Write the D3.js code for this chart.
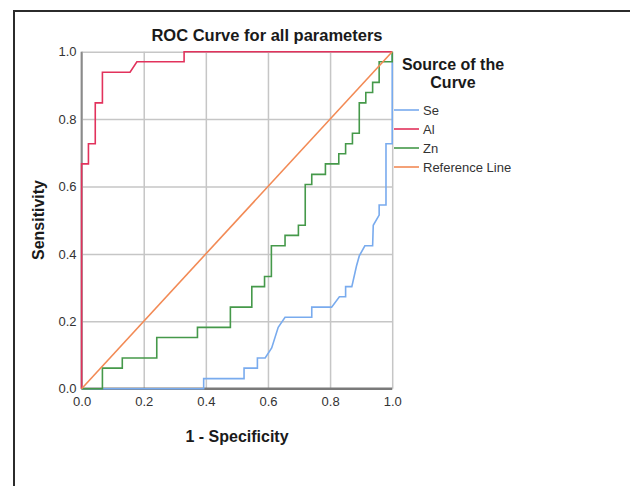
<!DOCTYPE html>
<html>
<head>
<meta charset="utf-8">
<script src="https://cdn.jsdelivr.net/npm/d3@7"></script>
<style>
  html, body { margin: 0; background: #fff; overflow: hidden; }
  svg { display: block; }
</style>
</head>
<body>
<div class="roc"></div>
<script>
// ROC curve vertices (1 - specificity, sensitivity)
const seFpr = [0, 0.393, 0.393, 0.523, 0.523, 0.566, 0.566, 0.591, 0.612, 0.633, 0.655, 0.741, 0.741, 0.805, 0.83, 0.85, 0.85, 0.87, 0.885, 0.894, 0.912, 0.937, 0.939, 0.958, 0.958, 0.98, 0.98, 1, 1];
const seTpr = [0, 0, 0.030, 0.030, 0.061, 0.061, 0.091, 0.091, 0.121, 0.182, 0.212, 0.212, 0.242, 0.242, 0.273, 0.273, 0.303, 0.303, 0.364, 0.394, 0.424, 0.424, 0.485, 0.515, 0.545, 0.545, 0.727, 0.727, 1];

const alFpr = [0, 0, 0.022, 0.022, 0.044, 0.044, 0.067, 0.067, 0.156, 0.178, 0.330, 0.330, 1];
const alTpr = [0, 0.667, 0.667, 0.727, 0.727, 0.848, 0.848, 0.939, 0.939, 0.970, 0.970, 1, 1];

const znFpr = [0, 0.067, 0.067, 0.131, 0.131, 0.242, 0.242, 0.373, 0.373, 0.479, 0.479, 0.548, 0.548, 0.589, 0.589, 0.611, 0.611, 0.655, 0.655, 0.698, 0.698, 0.72, 0.72, 0.741, 0.741, 0.785, 0.785, 0.828, 0.828, 0.85, 0.85, 0.872, 0.872, 0.894, 0.894, 0.915, 0.915, 0.937, 0.937, 0.958, 0.958, 1, 1];
const znTpr = [0, 0, 0.061, 0.061, 0.091, 0.091, 0.152, 0.152, 0.182, 0.182, 0.242, 0.242, 0.303, 0.303, 0.333, 0.333, 0.424, 0.424, 0.455, 0.455, 0.485, 0.485, 0.606, 0.606, 0.636, 0.636, 0.667, 0.667, 0.697, 0.697, 0.727, 0.727, 0.758, 0.758, 0.848, 0.848, 0.879, 0.879, 0.909, 0.909, 0.970, 0.970, 1];

const refFpr = [0, 1];
const refTpr = [0, 1];

const seriesNames = ["Se", "Al", "Zn", "Reference Line"];
const seriesColors = ["#79abee", "#e2325c", "#45994a", "#f28a55"];
const tickValues = [0, 0.2, 0.4, 0.6, 0.8, 1.0];

const fontFamily = "Liberation Sans, Arial, sans-serif";
const svgWidth = 630;
const svgHeight = 486;
const margin = { top: 51.7, left: 81.6 };
const innerWidth = 310.6;
const innerHeight = 337;

const svg = d3.select(".roc").append("svg")
  .attr("width", svgWidth)
  .attr("height", svgHeight)
  .attr("font-family", fontFamily);

// outer frame (runs off the right and bottom edges)
svg.append("path")
  .attr("d", `M14,${svgHeight + 5} V11 H${svgWidth + 5}`)
  .attr("fill", "none")
  .attr("stroke", "#2b2b2b")
  .attr("stroke-width", 2);

const xScale = d3.scaleLinear().domain([0, 1]).range([0, innerWidth]);
const yScale = d3.scaleLinear().domain([0, 1]).range([innerHeight, 0]);

const g = svg.append("g")
  .attr("transform", `translate(${margin.left}, ${margin.top})`);

// grid lines + tick labels
const yAxisG = g.append("g")
  .call(d3.axisLeft(yScale).tickValues(tickValues).tickFormat(d3.format(".1f")).tickSize(-innerWidth).tickPadding(5))
  .attr("font-family", fontFamily)
  .attr("font-size", 13);
yAxisG.select(".domain").remove();
yAxisG.selectAll(".tick line").attr("stroke", "#c6c6c6").attr("stroke-width", 1.5);
yAxisG.selectAll(".tick text").attr("fill", "#333");

const xAxisG = g.append("g")
  .attr("transform", `translate(0, ${innerHeight})`)
  .call(d3.axisBottom(xScale).tickValues(tickValues).tickFormat(d3.format(".1f")).tickSize(-innerHeight).tickPadding(8))
  .attr("font-family", fontFamily)
  .attr("font-size", 13);
xAxisG.select(".domain").remove();
xAxisG.selectAll(".tick line").attr("stroke", "#c6c6c6").attr("stroke-width", 1.5);
xAxisG.selectAll(".tick text").attr("fill", "#333");

// axis lines
g.append("line")
  .attr("x1", 0).attr("x2", 0).attr("y1", 0).attr("y2", innerHeight)
  .attr("stroke", "#8a8a8a").attr("stroke-width", 2);
g.append("line")
  .attr("x1", 0).attr("x2", innerWidth).attr("y1", innerHeight).attr("y2", innerHeight)
  .attr("stroke", "#7a7a7a").attr("stroke-width", 2.5);

const line = d3.line()
  .x((d) => xScale(d[0]))
  .y((d) => yScale(d[1]));

const curves = [
  d3.zip(seFpr, seTpr),
  d3.zip(alFpr, alTpr),
  d3.zip(znFpr, znTpr),
  d3.zip(refFpr, refTpr),
];

g.selectAll(".curve")
  .data(curves)
  .enter()
  .append("path")
  .attr("class", "curve")
  .attr("d", (d) => line(d))
  .attr("fill", "none")
  .attr("stroke", (d, i) => seriesColors[i])
  .attr("stroke-width", 1.6);

// titles
svg.append("text")
  .text("ROC Curve for all parameters")
  .attr("x", 267).attr("y", 41)
  .attr("text-anchor", "middle")
  .attr("font-size", 16.5).attr("font-weight", "bold").attr("fill", "#1a1a1a");

svg.append("text")
  .text("1 - Specificity")
  .attr("x", 237).attr("y", 442)
  .attr("text-anchor", "middle")
  .attr("font-size", 16).attr("font-weight", "bold").attr("fill", "#1a1a1a");

svg.append("text")
  .text("Sensitivity")
  .attr("transform", "translate(44, 220) rotate(-90)")
  .attr("text-anchor", "middle")
  .attr("font-size", 16).attr("font-weight", "bold").attr("fill", "#1a1a1a");

// legend
const legend = svg.append("g").attr("transform", "translate(394, 0)");
legend.append("text")
  .text("Source of the")
  .attr("x", 59).attr("y", 70)
  .attr("text-anchor", "middle")
  .attr("font-size", 16).attr("font-weight", "bold").attr("fill", "#1a1a1a");
legend.append("text")
  .text("Curve")
  .attr("x", 59).attr("y", 88)
  .attr("text-anchor", "middle")
  .attr("font-size", 16).attr("font-weight", "bold").attr("fill", "#1a1a1a");

const item = legend.selectAll(".item")
  .data(seriesNames)
  .enter()
  .append("g")
  .attr("class", "item")
  .attr("transform", (d, i) => `translate(0, ${110 + i * 19})`);
item.append("line")
  .attr("x1", 0).attr("x2", 25)
  .attr("stroke", (d, i) => seriesColors[i])
  .attr("stroke-width", 1.6);
item.append("text")
  .text((d) => d)
  .attr("x", 29).attr("y", 4.5)
  .attr("font-size", 13).attr("fill", "#333");
</script>
</body>
</html>
